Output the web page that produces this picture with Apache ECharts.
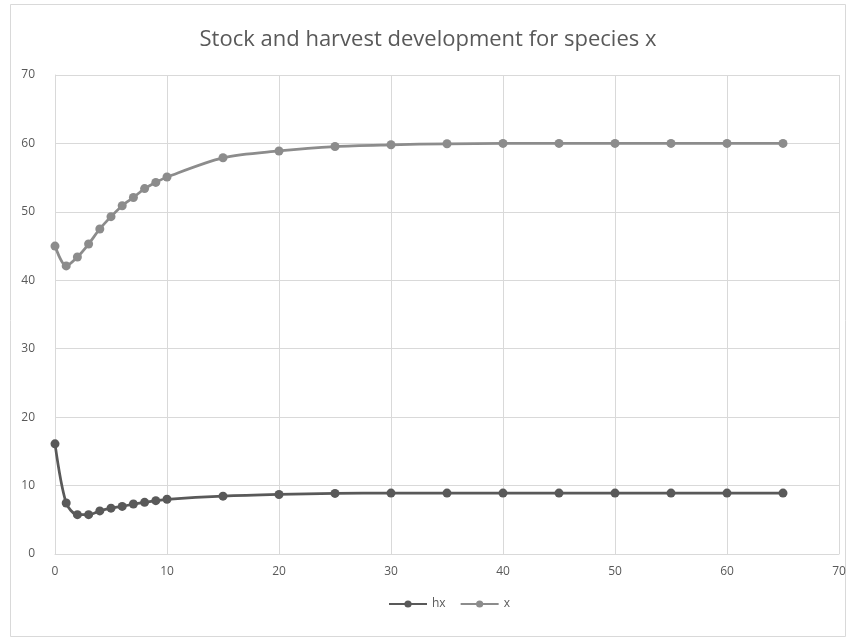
<!DOCTYPE html>
<html>
<head>
<meta charset="utf-8">
<script src="https://cdn.jsdelivr.net/npm/echarts@6/dist/echarts.min.js"></script>
<style>
html,body{margin:0;padding:0;background:#fff;}
#chart{width:856px;height:642px;}
</style>
</head>
<body>
<div id="chart"></div>
<script>
var titleText = 'Stock and harvest development for species x';
var timeSteps = [0,1,2,3,4,5,6,7,8,9,10,15,20,25,30,35,40,45,50,55,60,65];
var hxValues = [16.1,7.45,5.75,5.75,6.3,6.7,6.95,7.3,7.55,7.8,8.0,8.45,8.7,8.85,8.9,8.9,8.9,8.9,8.9,8.9,8.9,8.9];
var xValues = [45.0,42.1,43.4,45.3,47.5,49.3,50.9,52.1,53.4,54.3,55.1,57.9,58.9,59.55,59.8,59.95,60,60,60,60,60,60];
var seriesNames = ['hx','x'];

function pairs(xs, ys){ return xs.map(function(v,i){ return [v, ys[i]]; }); }

var chart = echarts.init(document.getElementById('chart'), null, {renderer:'canvas'});
var axisTxt = {color:'#595959', fontSize:12, fontFamily:'"Open Sans", sans-serif'};
chart.setOption({
  animation:false,
  backgroundColor:'#fff',
  title:{text:titleText, left:'center', top:24,
    textStyle:{color:'#595959', fontSize:22, fontWeight:'normal', fontFamily:'"Open Sans", sans-serif'}},
  graphic:[{type:'rect', shape:{x:10.5,y:4.5,width:835,height:632},
    style:{fill:'none', stroke:'#d9d9d9', lineWidth:1}, silent:true}],
  grid:{left:55, right:17, top:75, bottom:88, containLabel:false},
  legend:{bottom:27, left:383, itemWidth:38, itemHeight:9, itemGap:14,
    textStyle:{color:'#595959', fontSize:12, fontFamily:'"Open Sans", sans-serif'},
    data:seriesNames},
  xAxis:{type:'value', min:0, max:70, interval:10,
    axisLine:{show:true, lineStyle:{color:'#d9d9d9'}},
    axisTick:{show:false},
    axisLabel:Object.assign({margin:12}, axisTxt),
    splitLine:{show:true, lineStyle:{color:'#d9d9d9'}}},
  yAxis:{type:'value', min:0, max:70, interval:10,
    axisLine:{show:true, lineStyle:{color:'#d9d9d9'}},
    axisTick:{show:false},
    axisLabel:Object.assign({margin:20}, axisTxt),
    splitLine:{show:true, lineStyle:{color:'#d9d9d9'}}},
  series:[
    {name:seriesNames[0], type:'line', data:pairs(timeSteps,hxValues), smooth:0.3,
      symbol:'circle', symbolSize:9, showAllSymbol:true,
      lineStyle:{color:'#595959', width:2.75}, itemStyle:{color:'#595959'}},
    {name:seriesNames[1], type:'line', data:pairs(timeSteps,xValues), smooth:0.3,
      symbol:'circle', symbolSize:9, showAllSymbol:true,
      lineStyle:{color:'#8c8c8c', width:2.75}, itemStyle:{color:'#8c8c8c'}}
  ]
});
</script>
</body>
</html>
